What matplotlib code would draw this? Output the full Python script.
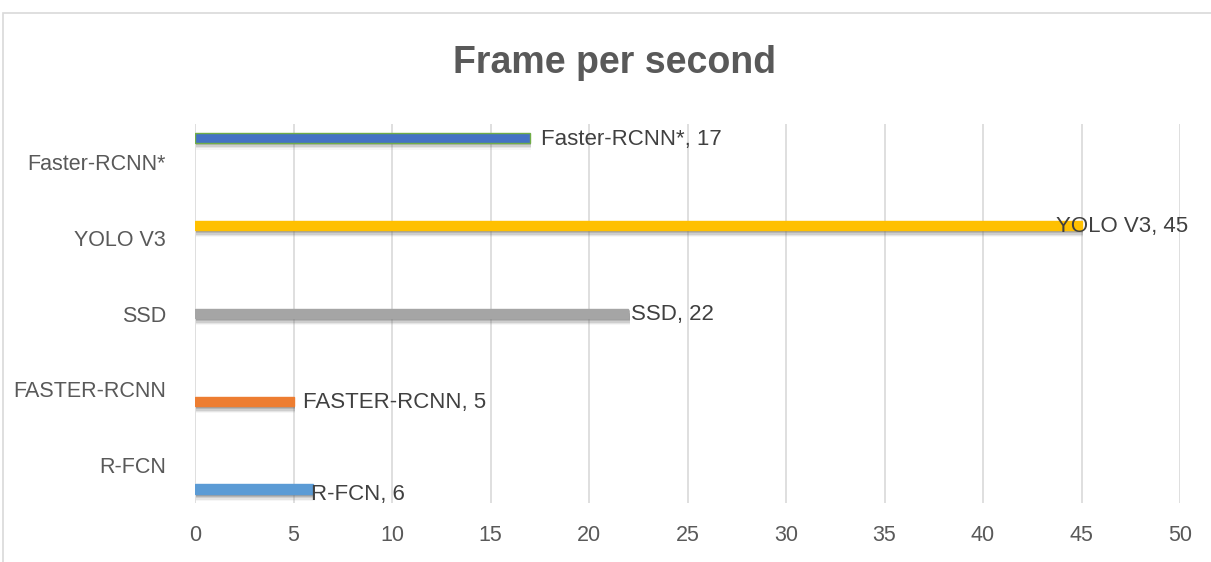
import matplotlib.pyplot as plt
import matplotlib.patheffects as pe
from matplotlib.patches import Rectangle
import numpy as np

# detector speed comparison
models = ['R-FCN', 'FASTER-RCNN', 'SSD', 'YOLO V3', 'Faster-RCNN*']
fps = [6, 5, 22, 45, 17]
xticks = [0, 5, 10, 15, 20, 25, 30, 35, 40, 45, 50]

colors = ['#5B9BD5', '#ED7D31', '#A5A5A5', '#FFC000', '#4472C4']
edges = ['#5B9BD5', '#ED7D31', '#A5A5A5', '#FFC000', '#70AD47']
label_dx = [-1.5, 7, 2, -18, 8]   # points, label offset from bar end

plt.rcParams['font.family'] = ['Liberation Sans', 'DejaVu Sans']
text_col = '#595959'

fig = plt.figure(figsize=(12.11, 5.62), dpi=100)
ax = fig.add_axes([195/1211, 1 - 503/562, (1180-195)/1211, (503-124)/562])

# outer chart frame
fig.patches.append(Rectangle((3/1211, -0.2), 1.2, 1.2 - 13/562, transform=fig.transFigure,
                             fill=False, edgecolor='#D9D9D9', lw=1.2, clip_on=False))

y = np.arange(len(models))
n = len(models)
step = 0.16
h = 0.13
# soft drop shadow under each bar
shadow = [pe.SimplePatchShadow(offset=(1.0, -d), shadow_rgbFace='#707070', alpha=a)
          for d, a in [(1.0, 0.3), (2.0, 0.25), (3.0, 0.2), (4.0, 0.12), (5.0, 0.06)]]

for i, (name, v) in enumerate(zip(models, fps)):
    yy = y[i] + (i - (n - 1) / 2) * step
    ax.barh(yy, v, height=h, color=colors[i], edgecolor=edges[i], lw=1,
            path_effects=shadow + [pe.Normal()], zorder=3)
    ax.annotate(f'{name}, {v}', (v, yy), xytext=(label_dx[i], -1 if i else -4),
                textcoords='offset points', ha='left', va='center',
                fontsize=16, color='#404040', zorder=5)

ax.set_xlim(0, 50)
ax.set_ylim(-0.5, n - 0.5)
ax.set_xticks(xticks)
ax.set_yticks(y, models)
ax.tick_params(axis='both', length=0, labelsize=15.5, labelcolor=text_col)
ax.tick_params(axis='x', pad=16)
ax.tick_params(axis='y', pad=21)
ax.grid(axis='x', color='#D9D9D9', lw=1.2, zorder=0)
ax.set_axisbelow(True)
for s in ax.spines.values():
    s.set_visible(False)

fig.text(615/1211, 1 - 63/562, 'Frame per second', ha='center', va='center',
         fontsize=27, fontweight='bold', color=text_col)

fig.savefig('out.png', dpi=100)
